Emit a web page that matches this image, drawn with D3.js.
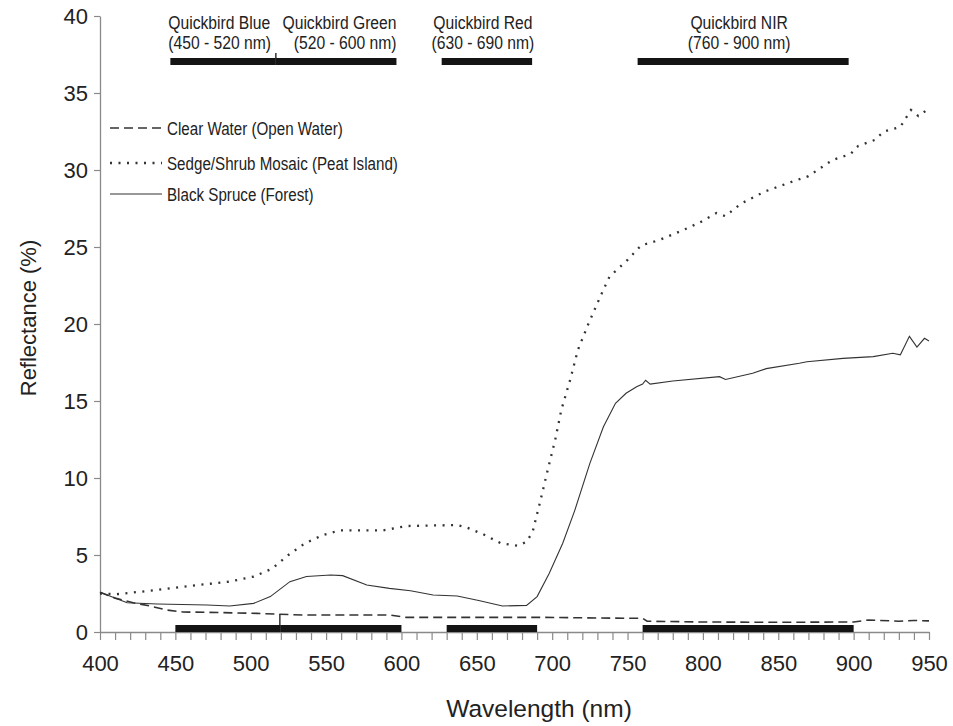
<!DOCTYPE html>
<html>
<head>
<meta charset="utf-8">
<script src="https://cdn.jsdelivr.net/npm/d3@7"></script>
<style>
  body { margin: 0; background: #fff; }
  svg { font-family: 'Liberation Sans', Arial, sans-serif; }
</style>
</head>
<body>
<div id="chart"></div>
<script>
// reflectance curves (wavelength nm, reflectance %)
const waterNm = [400, 410, 422, 433, 444, 455, 471, 504, 535, 592, 603, 650, 694, 740, 760, 763, 800, 850, 900, 910, 930, 940, 950];
const waterR = [2.58, 2.2, 1.9, 1.69, 1.43, 1.3, 1.28, 1.21, 1.1, 1.1, 0.95, 0.95, 0.95, 0.9, 0.89, 0.7, 0.65, 0.63, 0.65, 0.78, 0.7, 0.75, 0.72];

const sedgeNm = [400, 411, 435, 460, 486, 502, 514, 525, 536, 548, 559, 588, 603, 637, 643, 654, 666, 677, 683, 687, 692, 697, 702, 706, 712, 717, 724, 732, 738, 750, 759, 771, 787, 798, 809, 815, 825, 841, 858, 870, 886, 898, 903, 914, 920, 931, 938, 943, 950];
const sedgeR = [2.5, 2.45, 2.7, 3.0, 3.27, 3.6, 4.1, 5.0, 5.76, 6.3, 6.6, 6.6, 6.88, 6.95, 6.8, 6.36, 5.76, 5.6, 5.86, 6.5, 8.46, 10.5, 12.47, 14.4, 16.4, 18.3, 20.0, 21.8, 23.07, 24.16, 25.1, 25.45, 26.1, 26.6, 27.2, 27.0, 27.8, 28.6, 29.2, 29.6, 30.65, 31.04, 31.56, 31.95, 32.5, 32.8, 33.9, 33.5, 34.0];

const spruceNm = [400, 418, 438, 471, 486, 502, 513, 526, 537, 553, 561, 577, 592, 606, 621, 637, 652, 667, 683, 690, 698, 707, 715, 725, 734, 742, 749, 756, 760, 762, 765, 780, 811, 815, 833, 842, 864, 869, 893, 913, 926, 931, 937, 942, 947, 950];
const spruceR = [2.58, 1.9, 1.82, 1.75, 1.69, 1.86, 2.3, 3.27, 3.6, 3.7, 3.66, 3.05, 2.83, 2.68, 2.4, 2.34, 2.03, 1.69, 1.73, 2.3, 3.8, 5.76, 7.9, 10.95, 13.33, 14.85, 15.5, 15.93, 16.1, 16.35, 16.1, 16.3, 16.58, 16.4, 16.8, 17.1, 17.45, 17.55, 17.77, 17.88, 18.1, 18.0, 19.2, 18.5, 19.07, 18.9];

const seriesNames = ['Clear Water (Open Water)', 'Sedge/Shrub Mosaic (Peat Island)', 'Black Spruce (Forest)'];

// Quickbird bands
const bandTitle = ['Quickbird Blue', 'Quickbird Green', 'Quickbird Red', 'Quickbird NIR'];
const bandRange = ['(450 - 520 nm)', '(520 - 600 nm)', '(630 - 690 nm)', '(760 - 900 nm)'];
const bandStart = [450, 520, 630, 760];
const bandEnd = [520, 600, 690, 900];

const yTicks = [0, 5, 10, 15, 20, 25, 30, 35, 40];
const xLabelTicks = [400, 450, 500, 550, 600, 650, 700, 750, 800, 850, 900, 950];

const margin = { top: 16, right: 24, bottom: 94, left: 100 };
const width = 953 - margin.left - margin.right;
const height = 726 - margin.top - margin.bottom;

const xScale = d3.scaleLinear().domain([400, 950]).range([0, width]);
const yScale = d3.scaleLinear().domain([0, 40]).range([height, 0]);

const svg = d3
  .select('#chart')
  .append('svg')
  .attr('width', 953)
  .attr('height', 726)
  .append('g')
  .attr('transform', `translate(${margin.left}, ${margin.top})`);

// the original uses a narrow sans face, so squeeze text horizontally
const narrowText = (parent, x, y, str, size, squeeze, anchor) =>
  parent
    .append('text')
    .attr('transform', `translate(${x}, ${y}) scale(${squeeze}, 1)`)
    .attr('text-anchor', anchor)
    .attr('fill', '#222')
    .style('font-size', `${size}px`)
    .text(str);

// axes
const xAxis = svg
  .append('g')
  .attr('transform', `translate(0, ${height})`)
  .call(
    d3.axisBottom(xScale)
      .tickValues(d3.range(400, 951, 10))
      .tickSize(8)
      .tickSizeOuter(0)
      .tickPadding(15)
      .tickFormat(d => (xLabelTicks.includes(d) ? d : ''))
  );

const yAxis = svg
  .append('g')
  .call(
    d3.axisLeft(yScale)
      .tickValues(yTicks)
      .tickSize(6)
      .tickSizeOuter(0)
      .tickPadding(6)
  );

[xAxis, yAxis].forEach(a => {
  a.select('.domain').attr('stroke', '#8a8a8a').attr('stroke-width', 1.3);
  a.selectAll('.tick line').attr('stroke', '#8a8a8a').attr('stroke-width', 1.2);
  a.selectAll('.tick text')
    .attr('fill', '#222')
    .style('font-size', '22px')
    .style('font-family', "'Liberation Sans', Arial, sans-serif");
});
yAxis.selectAll('.tick text').attr('dy', '0.36em');

// axis titles
svg
  .append('text')
  .attr('x', 439)
  .attr('y', height + 85)
  .attr('text-anchor', 'middle')
  .attr('fill', '#222')
  .style('font-size', '24.5px')
  .text('Wavelength (nm)');

svg
  .append('text')
  .attr('transform', `translate(-64, ${yScale(20) - 6}) rotate(-90)`)
  .attr('text-anchor', 'middle')
  .attr('fill', '#222')
  .style('font-size', '22px')
  .text('Reflectance (%)');

// band bars: at the top (with labels) and along the x axis
const topShift = -5;
const topBarY = 42;
const barH = 7;

svg
  .selectAll('.bandTop')
  .data(bandStart)
  .enter()
  .append('rect')
  .attr('class', 'bandTop')
  .attr('x', d => xScale(d) + topShift)
  .attr('y', topBarY)
  .attr('width', (d, i) => xScale(bandEnd[i]) - xScale(d))
  .attr('height', barH)
  .attr('fill', '#141414');

svg
  .selectAll('.bandBottom')
  .data(bandStart)
  .enter()
  .append('rect')
  .attr('class', 'bandBottom')
  .attr('x', d => xScale(d))
  .attr('y', height - barH)
  .attr('width', (d, i) => xScale(bandEnd[i]) - xScale(d))
  .attr('height', barH)
  .attr('fill', '#141414');

// blue / green divider ticks
svg
  .append('line')
  .attr('x1', xScale(bandEnd[0]) + topShift)
  .attr('x2', xScale(bandEnd[0]) + topShift)
  .attr('y1', topBarY - 5)
  .attr('y2', topBarY)
  .attr('stroke', '#141414')
  .attr('stroke-width', 1.3);

svg
  .append('line')
  .attr('x1', xScale(bandEnd[0]) - 1)
  .attr('x2', xScale(bandEnd[0]) - 1)
  .attr('y1', height - barH - 11)
  .attr('y2', height - barH)
  .attr('stroke', '#141414')
  .attr('stroke-width', 1.3);

// band labels: blue sits left-aligned, green right-aligned, the rest centred
const anchorFor = i => (i === 0 ? 'start' : i === 1 ? 'end' : 'middle');
const labelX = i => {
  if (i === 0) return xScale(bandStart[i]) + topShift - 2;
  if (i === 1) return xScale(bandEnd[i]) + topShift;
  return (xScale(bandStart[i]) + xScale(bandEnd[i])) / 2 + topShift - 4;
};

bandTitle.forEach((t, i) => {
  narrowText(svg, labelX(i), 13, t, 18, 0.87, anchorFor(i));
  narrowText(svg, labelX(i), 33, bandRange[i], 18, 0.87, anchorFor(i));
});

// curves
const line = d3
  .line()
  .x(d => xScale(d[0]))
  .y(d => yScale(d[1]));

const lineStyles = [
  { width: 1.6, dash: '9,5' },
  { width: 2.3, dash: '2,6.5' },
  { width: 1.1, dash: null }
];

const curves = [
  d3.zip(waterNm, waterR),
  d3.zip(sedgeNm, sedgeR),
  d3.zip(spruceNm, spruceR)
];

curves.forEach((c, i) => {
  svg
    .append('path')
    .datum(c)
    .style('fill', 'none')
    .attr('stroke', '#333')
    .attr('stroke-width', lineStyles[i].width)
    .attr('stroke-dasharray', lineStyles[i].dash)
    .attr('d', line);
});

/* Legend */
const legendY = [112, 147, 178];
seriesNames.forEach((name, i) => {
  svg
    .append('line')
    .attr('x1', 10)
    .attr('x2', 62)
    .attr('y1', legendY[i])
    .attr('y2', legendY[i])
    .attr('stroke', '#333')
    .attr('stroke-width', lineStyles[i].width)
    .attr('stroke-dasharray', lineStyles[i].dash);

  narrowText(svg, 67, legendY[i] + 6.5, name, 18.5, 0.82, 'start');
});
</script>
</body>
</html>
